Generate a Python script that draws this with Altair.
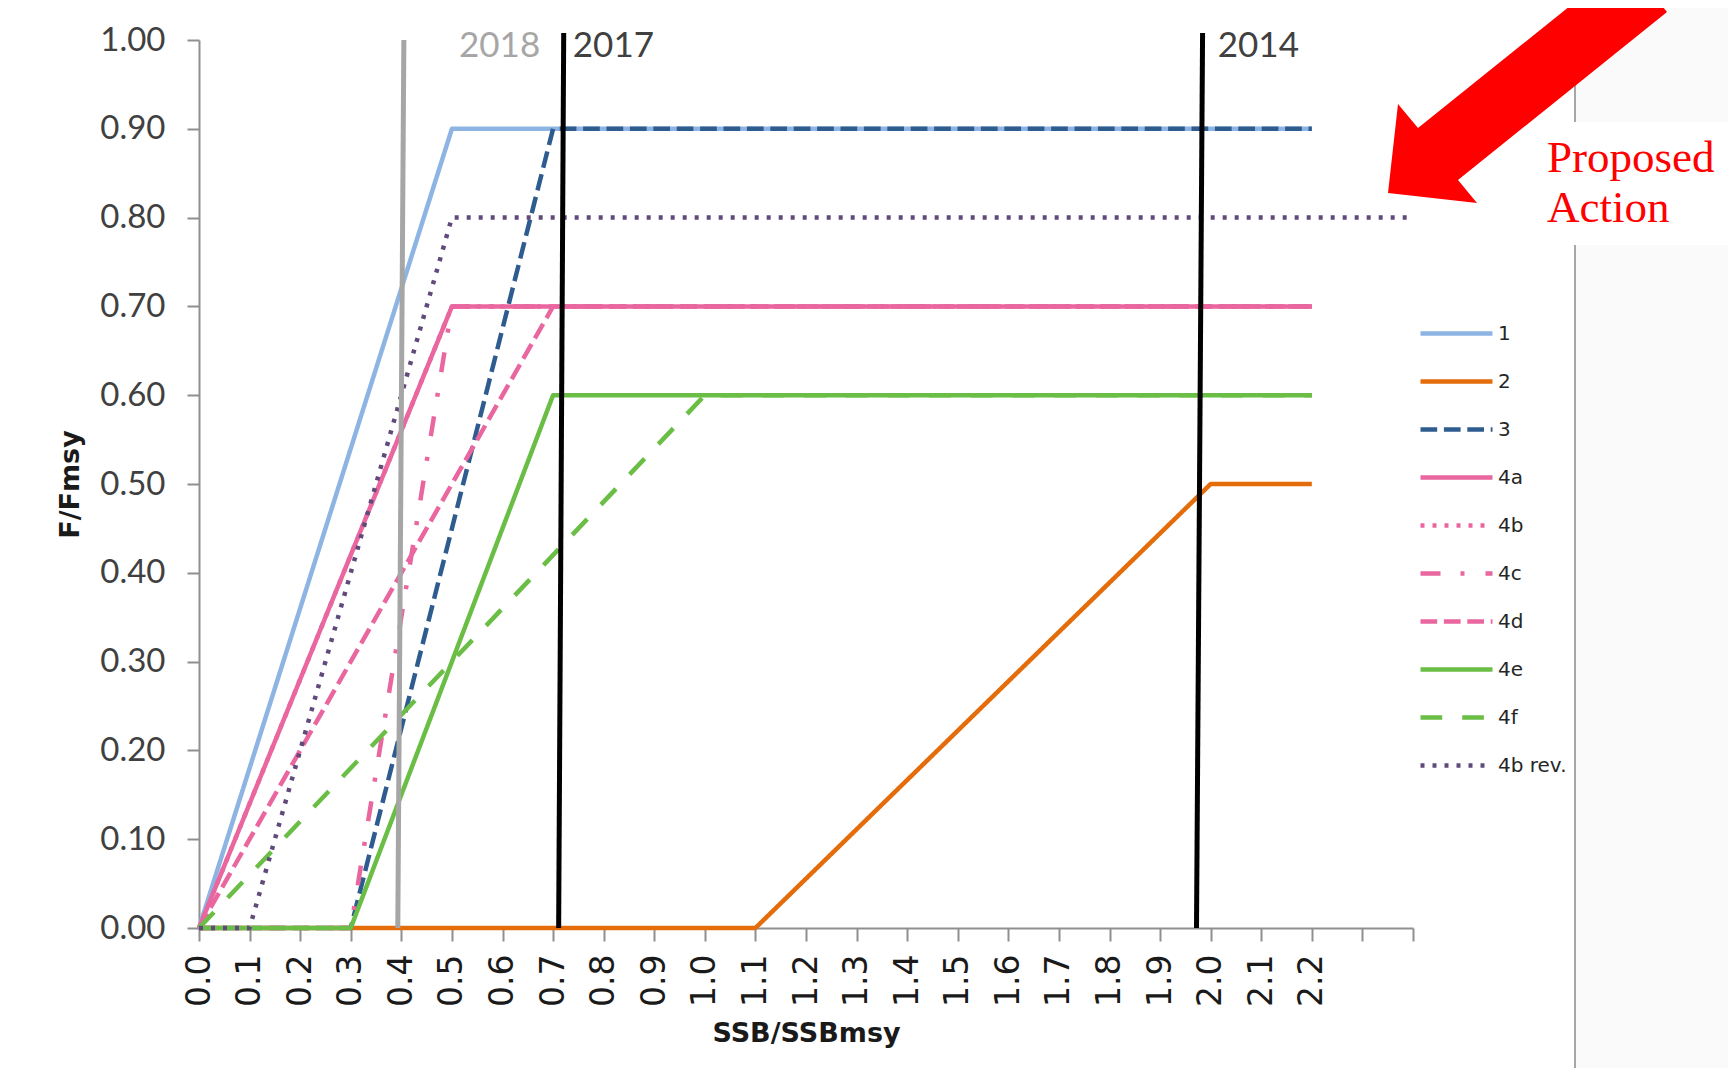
import altair as alt
import pandas as pd

# ---------------- data ----------------
series_names = ["1", "2", "3", "4a", "4b", "4c", "4d", "4e", "4f", "4b rev."]

x_1 = [0.0, 0.5, 2.2];            y_1 = [0.0, 0.9, 0.9]
x_2 = [0.0, 1.1, 2.0, 2.2];       y_2 = [0.0, 0.0, 0.5, 0.5]
x_3 = [0.0, 0.3, 0.7, 2.2];       y_3 = [0.0, 0.0, 0.9, 0.9]
x_4a = [0.0, 0.5, 2.2];           y_4a = [0.0, 0.7, 0.7]
x_4b = [0.0, 0.5, 2.2];           y_4b = [0.0, 0.7, 0.7]
x_4c = [0.0, 0.3, 0.5, 2.2];      y_4c = [0.0, 0.0, 0.7, 0.7]
x_4d = [0.0, 0.7, 2.2];           y_4d = [0.0, 0.7, 0.7]
x_4e = [0.0, 0.3, 0.7, 2.2];      y_4e = [0.0, 0.0, 0.6, 0.6]
x_4f = [0.0, 1.0, 2.2];           y_4f = [0.0, 0.6, 0.6]
x_4brev = [0.0, 0.1, 0.5, 2.4];   y_4brev = [0.0, 0.0, 0.8, 0.8]

series_points = [
    ("1", x_1, y_1), ("2", x_2, y_2), ("3", x_3, y_3), ("4a", x_4a, y_4a),
    ("4b", x_4b, y_4b), ("4c", x_4c, y_4c), ("4d", x_4d, y_4d),
    ("4e", x_4e, y_4e), ("4f", x_4f, y_4f), ("4b rev.", x_4brev, y_4brev),
]

# year marker lines (slightly slanted, as drawn)
year_labels = ["2018", "2017", "2014"]
year_x_bottom = [0.393, 0.711, 1.972]
year_x_top = [0.405, 0.721, 1.984]
year_y_top = [1.0, 1.008, 1.008]
year_text_x = [0.514, 0.739, 2.014]

x_tick_values = [0.0, 0.1, 0.2, 0.3, 0.4, 0.5, 0.6, 0.7, 0.8, 0.9, 1.0, 1.1, 1.2,
                 1.3, 1.4, 1.5, 1.6, 1.7, 1.8, 1.9, 2.0, 2.1, 2.2, 2.3, 2.4]
y_tick_values = [0.0, 0.1, 0.2, 0.3, 0.4, 0.5, 0.6, 0.7, 0.8, 0.9, 1.0]

# ---------------- styles ----------------
PINK = "#E9669F"
GREEN = "#6BBE45"
series_colors = ["#8EB4E3", "#E46C0A", "#2F5C8F", PINK, PINK, PINK, PINK, GREEN, GREEN, "#604A7B"]
series_dashes = [[1, 0], [1, 0], [16.7, 6.7], [1, 0], [4, 8],
                 [20, 20, 4, 21], [16.7, 6.7], [1, 0], [21.7, 20], [4, 8]]

rows = []
for name, xs, ys in series_points:
    for i, (xv, yv) in enumerate(zip(xs, ys)):
        rows.append({"series": name, "x": xv, "y": yv, "idx": i})
df = pd.DataFrame(rows)

years_df = pd.DataFrame({
    "year": year_labels,
    "x": year_x_bottom,
    "x2": year_x_top,
    "y": [0.0, 0.0, 0.0],
    "y2": year_y_top,
    "c": ["#A6A6A6", "#000000", "#000000"],
})
year_text_df = pd.DataFrame({
    "year": year_labels,
    "x": year_text_x,
    "y": [0.981, 0.981, 0.981],
    "c": ["#A6A6A6", "#404040", "#404040"],
})

AXIS_GRAY = "#8F8F8F"

X = alt.X(
    "x:Q",
    scale=alt.Scale(domain=[0, 2.4], nice=False, zero=False),
    axis=alt.Axis(
        values=x_tick_values,
        labelExpr="datum.value <= 2.21 ? format(datum.value, '.1f') : ''",
        labelAngle=270,
        labelFont="DejaVu Sans",
        labelFontSize=33,
        labelColor="#1a1a1a",
        labelPadding=13,
        labelOverlap=False,
        labelFlush=False,
        tickSize=13,
        tickColor=AXIS_GRAY,
        tickWidth=2,
        domainColor=AXIS_GRAY,
        domainWidth=2,
        grid=False,
        title="SSB/SSBmsy",
        titleFont="DejaVu Sans",
        titleFontSize=27,
        titleFontWeight="bold",
        titleColor="#1a1a1a",
        titlePadding=14,
    ),
)
Y = alt.Y(
    "y:Q",
    scale=alt.Scale(domain=[0, 1], nice=False, zero=False),
    axis=alt.Axis(
        values=y_tick_values,
        format=".2f",
        labelFont="Lato",
        labelFontSize=33,
        labelColor="#404040",
        labelPadding=22,
        labelOverlap=False,
        labelFlush=False,
        tickSize=12,
        tickColor=AXIS_GRAY,
        tickWidth=2,
        domainColor=AXIS_GRAY,
        domainWidth=2,
        grid=False,
        title="F/Fmsy",
        titleFont="DejaVu Sans",
        titleFontSize=27,
        titleFontWeight="bold",
        titleColor="#1a1a1a",
        titlePadding=15,
    ),
)

legend = alt.Legend(
    title=None,
    orient="none",
    legendX=1231,
    legendY=267,
    symbolType="M-1.5,0L1.5,0",
    symbolSize=2304,
    symbolStrokeWidth=4.5,
    labelFont="DejaVu Sans",
    labelFontSize=20,
    labelColor="#262626",
    labelOffset=15,
    rowPadding=11,
    padding=0,
    labelLimit=200,
)
color_enc = alt.Color("series:N", scale=alt.Scale(domain=series_names, range=series_colors), legend=legend)
dash_enc = alt.StrokeDash("series:N", scale=alt.Scale(domain=series_names, range=series_dashes), legend=legend)

one = pd.DataFrame({"k": [0]})

# background panel on the right (slide frame)
PANEL = "#FAFAFA"
panel_top = alt.Chart(one).mark_rect(color=PANEL).encode(
    x=alt.value(1376), x2=alt.value(1540), y=alt.value(-40), y2=alt.value(82))
panel_bottom = alt.Chart(one).mark_rect(color=PANEL).encode(
    x=alt.value(1376), x2=alt.value(1540), y=alt.value(205), y2=alt.value(1030))
panel_line_top = alt.Chart(one).mark_rule(color="#A6A6A6", strokeWidth=2).encode(
    x=alt.value(1376), y=alt.value(-40), y2=alt.value(82))
panel_line_bottom = alt.Chart(one).mark_rule(color="#A6A6A6", strokeWidth=2).encode(
    x=alt.value(1376), y=alt.value(205), y2=alt.value(1030))

line_layers = []
for name in series_names:
    line_layers.append(
        alt.Chart(df).transform_filter(alt.datum.series == name)
        .mark_line(strokeWidth=4.5, strokeCap="butt", strokeJoin="round")
        .encode(x=X, y=Y, color=color_enc, strokeDash=dash_enc, order="idx:Q")
    )

year_rules = alt.Chart(years_df).mark_rule(strokeWidth=5).encode(
    x=X, x2="x2:Q", y=Y, y2="y2:Q", color=alt.Color("c:N", scale=None))

year_texts = alt.Chart(year_text_df).mark_text(
    align="left", baseline="alphabetic", font="Lato", fontSize=35
).encode(x=X, y=Y, text="year:N", color=alt.Color("c:N", scale=None))

ARROW = "M-112,93L-102,4L-82,28L126,-139L167,-88L-42,80L-23,103Z"
arrow = alt.Chart(one).mark_point(
    shape=ARROW, filled=True, size=4, color="#FF0000", opacity=1, strokeWidth=0
).encode(x=alt.value(1301), y=alt.value(60))

proposed = alt.Chart(one).mark_text(
    align="left", baseline="alphabetic", font="Liberation Serif", fontSize=45, color="#FF0000"
).encode(x=alt.value(1348), y=alt.value(132), text=alt.value("Proposed"))
action = alt.Chart(one).mark_text(
    align="left", baseline="alphabetic", font="Liberation Serif", fontSize=45, color="#FF0000"
).encode(x=alt.value(1348), y=alt.value(182), text=alt.value("Action"))

chart = alt.layer(
    panel_top, panel_bottom, panel_line_top, panel_line_bottom,
    *line_layers, year_rules, year_texts, arrow, proposed, action
).properties(
    width=1214,
    height=888,
    autosize=alt.AutoSizeParams(type="none"),
    padding={"left": 191, "top": 32, "right": 315, "bottom": 140},
    background="white",
).configure_view(stroke=None)

chart.save("out.html", embed_options={"renderer": "svg", "actions": False})
